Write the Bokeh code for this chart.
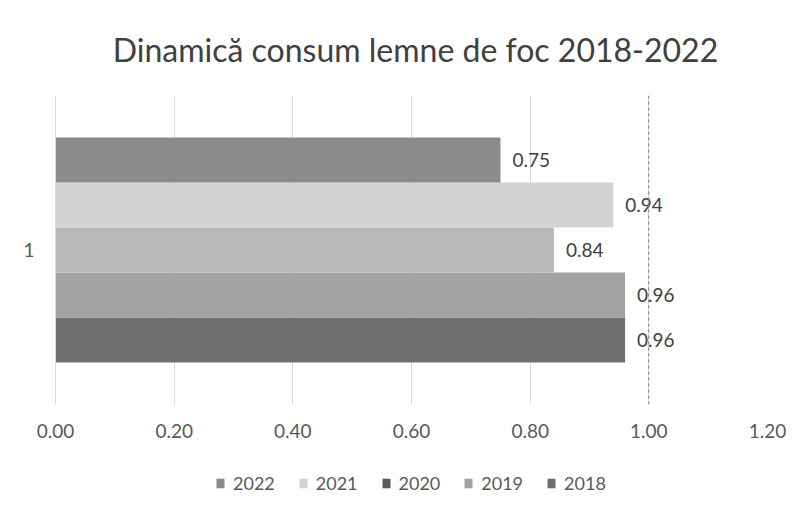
from bokeh.plotting import figure
from bokeh.models import (ColumnDataSource, Range1d, FixedTicker, Legend, LegendItem,
                          Span, LabelSet, Label, CustomJSTickFormatter)
from bokeh.layouts import column
from bokeh.core.properties import value
from bokeh.embed import file_html
from bokeh.resources import INLINE

# ---- data ----
years = ["2018", "2019", "2020", "2021", "2022"]          # bottom -> top
values = [0.96, 0.96, 0.84, 0.94, 0.75]
bar_colors = ["#6f6f6f", "#a3a3a3", "#b9b9b9", "#d3d3d3", "#8b8b8b"]
legend_order = ["2022", "2021", "2020", "2019", "2018"]
legend_colors = ["#8b8b8b", "#d3d3d3", "#5a5a5a", "#a3a3a3", "#6f6f6f"]
x_ticks = [0.0, 0.2, 0.4, 0.6, 0.8, 1.0, 1.2]
category_label = "1"
title_text = "Dinamică consum lemne de foc 2018-2022"

FONT = "Lato"
TXT = "#595959"
W, LB, RB = 794, 55, 27

# ---- title strip ----
tf = figure(width=W, height=95, output_backend="svg", toolbar_location=None,
            x_range=Range1d(0, 1), y_range=Range1d(0, 1),
            x_axis_location=None, y_axis_location=None,
            min_border_left=LB, min_border_right=RB, min_border_top=0, min_border_bottom=0)
tf.grid.visible = False
tf.outline_line_color = None
tf.add_layout(Label(x=0.5056, y=0.484, text=title_text, text_align="center",
                    text_baseline="middle", text_font=FONT,
                    text_font_size="32px", text_color="#404040"))

# ---- main chart ----
pos = [i + 1 for i in range(len(years))]
src = ColumnDataSource(dict(
    y=pos, right=values, color=bar_colors,
    label=["%.2f" % v for v in values],
))

p = figure(frame_width=712, frame_height=309, output_backend="svg", toolbar_location=None,
           x_range=Range1d(0, 1.2), y_range=Range1d(-0.43, 6.43),
           min_border_left=LB, min_border_right=RB, min_border_top=0,
           min_border_bottom=56)

p.hbar(y="y", right="right", left=0, height=1.0, color="color",
       line_color=None, source=src)

labels = LabelSet(x="right", y="y", text="label", source=src, x_offset=12,
                  text_baseline="middle", text_font=value(FONT), text_font_size="19px",
                  text_color="#404040")
p.add_layout(labels)

# dashed line at 1.00
p.add_layout(Span(location=1.0, dimension="height", line_color="#7a7a7a",
                  line_dash="3 3", line_width=1))

p.xaxis.ticker = FixedTicker(ticks=x_ticks)
p.xaxis.formatter = CustomJSTickFormatter(code="return tick.toFixed(2);")
p.xaxis.axis_line_color = None
p.xaxis.major_tick_line_color = None
p.xaxis.minor_tick_line_color = None
p.xaxis.major_label_text_font = FONT
p.xaxis.major_label_text_font_size = "19px"
p.xaxis.major_label_text_color = TXT
p.xaxis.major_label_standoff = 13

p.yaxis.ticker = FixedTicker(ticks=[3])
p.yaxis.major_label_overrides = {3: category_label}
p.yaxis.axis_line_color = "#d9d9d9"
p.yaxis.major_tick_line_color = None
p.yaxis.minor_tick_line_color = None
p.yaxis.major_label_text_font = FONT
p.yaxis.major_label_text_font_size = "19px"
p.yaxis.major_label_text_color = TXT
p.yaxis.major_label_standoff = 15

p.xgrid.grid_line_color = "#d9d9d9"
p.ygrid.grid_line_color = None
p.outline_line_color = None

# ---- legend strip ----
lg = figure(width=W, height=45, output_backend="svg", toolbar_location=None,
            x_range=Range1d(0, 1), y_range=Range1d(0, 1),
            x_axis_location=None, y_axis_location=None,
            min_border_left=LB, min_border_right=RB, min_border_top=0, min_border_bottom=0)
lg.grid.visible = False
lg.outline_line_color = None
items = []
for yr, c in zip(legend_order, legend_colors):
    r = lg.quad(left=[-10], right=[-9], bottom=[-10], top=[-9], color=c, line_color=None)
    items.append(LegendItem(label=yr, renderers=[r]))
legend = Legend(items=items, orientation="horizontal", location=(160, 11),
                label_text_font=FONT, label_text_font_size="18px",
                label_text_color=TXT, glyph_width=10, glyph_height=12,
                spacing=23, label_standoff=8, border_line_color=None,
                background_fill_alpha=0, margin=0, padding=0)
lg.add_layout(legend, "center")

layout = column(tf, p, lg, spacing=0)
open("out.html", "w").write(file_html(layout, INLINE))
